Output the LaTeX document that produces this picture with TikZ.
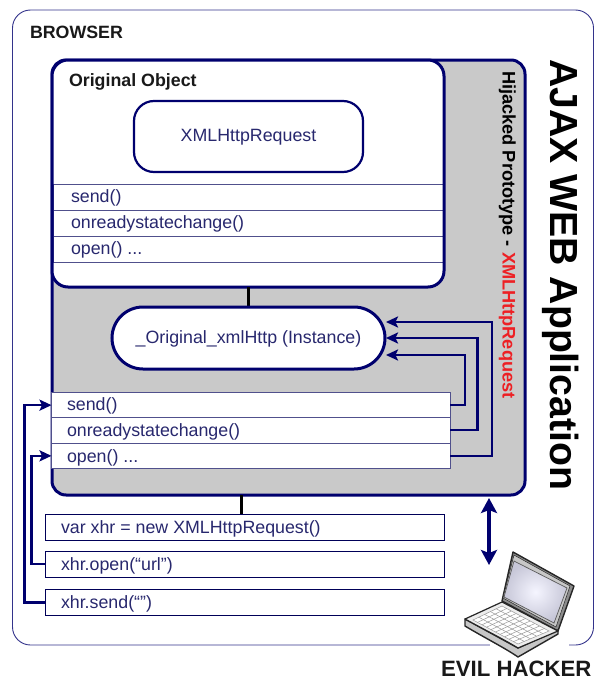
\documentclass[tikz,border=0pt]{standalone}
\usepackage{fontspec}
\setmainfont{Liberation Sans}
\usetikzlibrary{arrows.meta,calc}
\definecolor{navy}{HTML}{00006E}
\definecolor{rowline}{HTML}{50508C}
\definecolor{rowtext}{HTML}{28286E}
\definecolor{panel}{HTML}{C9C9C9}
\definecolor{hack}{HTML}{ED2024}
\newcommand{\regsize}[1]{\fontsize{#1}{#1}\selectfont}
\newcommand{\boldsize}[1]{\fontsize{#1}{#1}\selectfont\bfseries}
\tikzset{
  x=1pt,y=-1pt,
  every node/.style={outer sep=0pt,inner sep=0pt},
  rowbox/.style={draw=rowline,line width=0.9pt,fill=white,minimum height=25.7pt,anchor=north west},
  rowtxt/.style={anchor=base west,text=rowtext,font=\regsize{17.8}},
  codebox/.style={draw=navy!80!black,line width=0.9pt,fill=white,anchor=north west,minimum width=399.5pt,minimum height=26pt},
  wire/.style={draw=navy,line width=2.3pt},
  wirearrow/.style={wire,-{Stealth[length=12pt,width=11pt,inset=2.5pt]}},
  bond/.style={draw=black,line width=3pt},
  heading/.style={anchor=base west,font=\boldsize{17.8},text=black!90},
  lid/.style={draw=black!85,line width=1pt,line join=round},
}
\begin{document}
\begin{tikzpicture}
\useasboundingbox (0,0) rectangle (598,680);
% browser
\node[draw=navy!80,line width=0.9pt,rounded corners=18pt,minimum width=581pt,minimum height=635pt,anchor=north west] (browser) at (12.5,10) {};
\node[heading] (browsertitle) at (30,38) {BROWSER};
% hijacked panel
\node[draw=navy,fill=panel,line width=3pt,rounded corners=14pt,minimum width=473pt,minimum height=435pt,anchor=north west] (panel) at (52,60) {};
% original object
\node[fill=white,rounded corners=16pt,minimum width=392pt,minimum height=227pt,anchor=north west] (orig) at (52,60) {};
\foreach \n/\y in {oa/184,ob/210,oc/236}{
  \node[rowbox,minimum width=390pt,minimum height=26pt] (\n) at (53,\y) {};
}
\node[draw=navy,line width=3pt,rounded corners=16pt,minimum width=392pt,minimum height=227pt,anchor=north west] (origborder) at (52,60) {};
\node[heading] (origtitle) at (69,86.5) {Original Object};
\node[draw=navy,line width=2.2pt,fill=white,rounded corners=20pt,minimum width=229pt,minimum height=71pt,anchor=north west,text=rowtext,font=\regsize{17.8},text height=13pt,text depth=3pt] (xhrobj) at (134,101) {XMLHttpRequest};
\node[rowtxt] (oat) at (71,202.5) {send()};
\node[rowtxt] (obt) at (71,228.5) {onreadystatechange()};
\node[rowtxt] (oct) at (71,254.5) {open() ...};
% instance
\draw[bond] (248,287) coordinate (bondtop) -- (248,307) coordinate (bondbot);
\node[draw=navy,line width=3pt,fill=white,rounded corners=31pt,minimum width=273pt,minimum height=62pt,anchor=north west,text=rowtext,font=\regsize{17.8},text height=13pt,text depth=3pt] (inst) at (112,307) {\_Original\_xmlHttp (Instance)};
% hijacked rows
\foreach \n/\y in {ls/392.3,lo/417.3,lp/443}{
  \node[rowbox,minimum width=398.5pt] (\n) at (51.5,\y) {};
}
\node[rowtxt] (lst) at (67,410.5) {send()};
\node[rowtxt] (lot) at (67,436.5) {onreadystatechange()};
\node[rowtxt] (lpt) at (67,462) {open() ...};
% instance arrows
\coordinate (ia) at (386,322);
\coordinate (ib) at (386,338);
\coordinate (ic) at (386,355);
\draw[wirearrow] (ls.east) -- ++(15,0) |- (ic);
\draw[wirearrow] (lo.east) -- ++(27.5,0) |- (ib);
\draw[wirearrow] (lp.east) -- ++(42,0) |- (ia);
% vertical labels
\node[rotate=-90,anchor=base west,font=\boldsize{18.2}] (hij) at (502.5,71) {Hijacked Prototype - \textcolor{hack}{XMLHttpRequest}};
\node[rotate=-90,anchor=base west,font=\boldsize{39.2}] (ajax) at (550,59) {AJAX WEB Application};
% code boxes
\node[codebox] (c1) at (45,514) {};
\node[codebox] (c2) at (45,551.3) {};
\node[codebox] (c3) at (45,589.5) {};
\node[rowtxt] (c1t) at (61,533) {var xhr = new XMLHttpRequest()};
\node[rowtxt] (c2t) at (61,570) {xhr.open(“url”)};
\node[rowtxt] (c3t) at (61,608) {xhr.send(“”)};
\draw[bond] (241,495) coordinate (pb) -- (c1.north -| pb);
\draw[wirearrow] (c3.west) -- ++(-20.5,0) |- (ls.west);
\draw[wirearrow] (c2.west) -- ++(-13.5,0) |- (lp.west);
% double arrow
\coordinate (da) at (489,498);
\coordinate (db) at (489,565);
\draw[draw=navy,line width=3.6pt,{Stealth[length=15pt,width=16pt,inset=3pt]}-{Stealth[length=15pt,width=16pt,inset=3pt]}] (da) -- (db);
% laptop
\fill[white] (490,640) rectangle (569,650);
\draw[lid,line width=1.4pt,fill=black!45] (513,552) -- (574,586) -- (558,631) -- (502,601) -- cycle;
\draw[lid,line width=0.5pt,fill=black!22] (514,555) -- (570,586) -- (556,627) -- (503,598) -- cycle;
\shade[inner color=blue!4!white,outer color=blue!30!black!22] (514,561) -- (567,588) -- (554,623) -- (504,597) -- cycle;
\draw[black!65,line width=0.7pt] (514,561) -- (567,588) -- (554,623) -- (504,597) -- cycle;
\draw[lid,line width=1.4pt,fill=black!22] (465,619) -- (465,626) .. controls (485,638) and (505,648) .. (518,657) -- (558,634) -- (558,630) -- (518,648) -- cycle;
\draw[lid,line width=1.2pt,fill=black!7] (465,619) -- (502,602) -- (558,631) -- (518,648) .. controls (505,640) and (485,630) .. cycle;
\fill[white] (502,606) -- (549,631) -- (518,644) -- (473,620) -- cycle;
\foreach \t in {0.2,0.4,0.6,0.8}{
  \draw[black!40,line width=0.5pt] ($(502,606)!\t!(473,620)$) -- ($(549,631)!\t!(518,644)$);
}
\foreach \t in {0.1,0.2,...,0.95}{
  \draw[black!40,line width=0.5pt] ($(502,606)!\t!(549,631)$) -- ($(473,620)!\t!(518,644)$);
}
\draw[black!40,line width=0.5pt] (502,606) -- (549,631) -- (518,644) -- (473,620) -- cycle;
\node[anchor=base west,font=\boldsize{22.2},text=black!90] (hacker) at (441,676) {EVIL HACKER};
\end{tikzpicture}
\end{document}
